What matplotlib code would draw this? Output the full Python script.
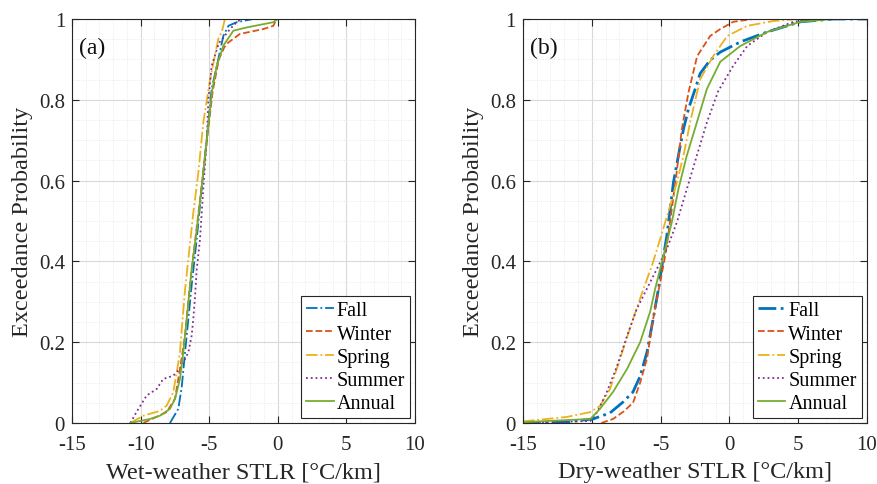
import matplotlib
matplotlib.use("Agg")
import matplotlib.pyplot as plt
from matplotlib.ticker import MultipleLocator, FuncFormatter

plt.rcParams['font.family'] = ['Liberation Serif', 'DejaVu Serif']
plt.rcParams['axes.unicode_minus'] = False
plt.rcParams['mathtext.fontset'] = 'stix'

# ---- data: (a) wet-weather STLR ----
wet_fall_x = [-7.86, -7.25, -7.0, -6.76, -6.52, -6.28, -5.91, -5.55, -5.18, -4.82, -4.34, -3.97, -3.6, -3.0, -1.79]
wet_fall_y = [0, 0.035, 0.09, 0.175, 0.257, 0.34, 0.455, 0.58, 0.703, 0.827, 0.90, 0.958, 0.983, 0.992, 1.0]
wet_winter_x = [-9.8, -8.1, -7.49, -7.13, -6.76, -6.52, -6.28, -5.85, -5.5, -5.1, -4.75, -4.3, -3.9, -3.6, -2.76, -1.06, -0.33, -0.08]
wet_winter_y = [0, 0.027, 0.06, 0.134, 0.216, 0.30, 0.38, 0.5, 0.6, 0.72, 0.82, 0.90, 0.93, 0.942, 0.963, 0.975, 0.983, 1.0]
wet_spring_x = [-10.75, -9.8, -8.59, -8.1, -7.62, -7.37, -7.13, -7.0, -6.76, -6.16, -5.79, -5.43, -4.94, -4.34, -4.09, -3.85]
wet_spring_y = [0, 0.018, 0.03, 0.043, 0.076, 0.125, 0.175, 0.233, 0.33, 0.52, 0.62, 0.744, 0.85, 0.95, 0.967, 1.0]
wet_summer_x = [-10.75, -10.3, -9.56, -8.83, -8.35, -7.62, -7.13, -6.76, -6.52, -6.28, -6.16, -6.03, -5.91, -5.67, -5.43, -5.18, -5.06, -4.82, -4.3, -3.48, -3.0, -2.63]
wet_summer_y = [0, 0.027, 0.068, 0.084, 0.109, 0.117, 0.134, 0.158, 0.175, 0.216, 0.257, 0.315, 0.38, 0.455, 0.58, 0.70, 0.80, 0.884, 0.94, 0.975, 0.992, 1.0]
wet_annual_x = [-10.75, -9.31, -8.59, -7.86, -7.49, -7.13, -6.89, -6.64, -6.4, -6.28, -5.9, -5.5, -5.15, -4.8, -4.45, -3.97, -3.24, -2.27, -0.33, 0.0]
wet_annual_y = [0, 0.01, 0.018, 0.035, 0.06, 0.109, 0.175, 0.257, 0.34, 0.38, 0.48, 0.6, 0.71, 0.82, 0.884, 0.934, 0.971, 0.979, 0.992, 1.0]

# ---- data: (b) dry-weather STLR ----
dry_fall_x = [-15, -12, -9.9, -8.67, -7.72, -7.0, -6.48, -5.98, -5.54, -5.15, -4.9, -4.54, -4.3, -4.06, -3.7, -3.33, -2.97, -2.48, -2.12, -1.4, -0.66, 0.79, 2.76, 5.16, 7.56, 10]
dry_fall_y = [0, 0.002, 0.01, 0.025, 0.052, 0.077, 0.116, 0.176, 0.257, 0.332, 0.389, 0.464, 0.53, 0.596, 0.662, 0.728, 0.777, 0.827, 0.865, 0.898, 0.918, 0.943, 0.968, 0.993, 1.0, 1.0]
dry_winter_x = [-9.3, -8.45, -7.7, -7.0, -6.48, -5.98, -5.54, -5.03, -4.66, -4.3, -3.9, -3.45, -2.97, -2.34, -1.39, -0.66, 0.28, 1.74, 10]
dry_winter_y = [0, 0.01, 0.028, 0.05, 0.1, 0.16, 0.257, 0.348, 0.414, 0.5, 0.6, 0.728, 0.818, 0.908, 0.958, 0.975, 0.993, 1.0, 1.0]
dry_spring_x = [-15, -11.8, -10.1, -9.4, -8.67, -7.95, -7.0, -6.24, -5.63, -5.03, -4.3, -3.81, -3.33, -2.85, -2.12, -1.17, -0.15, 1.3, 3.2, 5.16, 10]
dry_spring_y = [0.004, 0.015, 0.027, 0.042, 0.084, 0.158, 0.257, 0.332, 0.389, 0.455, 0.538, 0.596, 0.662, 0.744, 0.851, 0.908, 0.958, 0.983, 0.995, 1.0, 1.0]
dry_summer_x = [-15, -10.1, -9.6, -8.9, -8.16, -7.43, -6.73, -5.76, -5.27, -4.54, -3.81, -3.09, -2.36, -1.63, -0.8, 0.28, 1.3, 2.76, 4.65, 6.4, 10]
dry_summer_y = [0, 0.005, 0.027, 0.077, 0.141, 0.216, 0.282, 0.348, 0.381, 0.431, 0.497, 0.579, 0.662, 0.744, 0.822, 0.884, 0.933, 0.968, 0.993, 1.0, 1.0]
dry_annual_x = [-15, -10.1, -9.4, -8.45, -7.43, -6.48, -5.76, -5.39, -5.15, -4.66, -4.18, -3.7, -3.09, -2.36, -1.63, -0.66, 0.79, 2.76, 5.16, 7.56, 10]
dry_annual_y = [0.002, 0.01, 0.035, 0.077, 0.134, 0.2, 0.275, 0.332, 0.365, 0.431, 0.497, 0.579, 0.662, 0.744, 0.827, 0.894, 0.933, 0.968, 0.993, 1.0, 1.0]

labels = ['Fall', 'Winter', 'Spring', 'Summer', 'Annual']
colors = ['#0072BD', '#D95319', '#EDB120', '#7E2F8E', '#77AC30']
styles = ['-.', '--', '-.', ':', '-']

wet = [(wet_fall_x, wet_fall_y), (wet_winter_x, wet_winter_y), (wet_spring_x, wet_spring_y),
       (wet_summer_x, wet_summer_y), (wet_annual_x, wet_annual_y)]
dry = [(dry_fall_x, dry_fall_y), (dry_winter_x, dry_winter_y), (dry_spring_x, dry_spring_y),
       (dry_summer_x, dry_summer_y), (dry_annual_x, dry_annual_y)]

fig = plt.figure(figsize=(8.77, 4.85), dpi=100)
ax1 = fig.add_axes([0.0821, 0.1258, 0.3911, 0.833])
ax2 = fig.add_axes([0.5963, 0.1258, 0.3922, 0.833])


def yfmt(v, pos):
    return '%g' % round(v, 2)


for ax, series, xlabel, tag in [(ax1, wet, 'Wet-weather STLR [°C/km]', '(a)'),
                                (ax2, dry, 'Dry-weather STLR [°C/km]', '(b)')]:
    for i, (xs, ys) in enumerate(series):
        lw = 2.0 if (ax is ax2 and i == 0) else 1.3
        ax.plot(xs, ys, styles[i], color=colors[i], lw=lw, label=labels[i])
    ax.set_xlim(-15, 10)
    ax.set_ylim(0, 1)
    ax.xaxis.set_major_locator(MultipleLocator(5))
    ax.xaxis.set_minor_locator(MultipleLocator(1))
    ax.yaxis.set_major_locator(MultipleLocator(0.2))
    ax.yaxis.set_minor_locator(MultipleLocator(0.05))
    ax.yaxis.set_major_formatter(FuncFormatter(yfmt))
    ax.grid(which='major', color='#d9d9d9', lw=0.8, ls='-')
    ax.grid(which='minor', color='#e4e4e4', lw=0.6, ls=':')
    ax.set_axisbelow(True)
    ax.tick_params(which='major', direction='in', top=True, right=True, length=5,
                   width=0.8, labelsize=15, colors='#262626')
    ax.tick_params(axis='x', which='major', pad=9)
    ax.tick_params(axis='y', which='major', pad=5)
    ax.tick_params(which='minor', length=0)
    for s in ax.spines.values():
        s.set_color('#262626')
        s.set_linewidth(0.8)
    ax.set_xlabel(xlabel, fontsize=17.5, color='#262626', labelpad=5)
    ax.set_ylabel('Exceedance Probability', fontsize=17.5, color='#262626', labelpad=4)
    ax.text(0.02, 0.955, tag, transform=ax.transAxes, fontsize=17, va='top', ha='left', color='#111111')
    leg = ax.legend(loc='lower right', fontsize=14.5, handlelength=1.35, handletextpad=0.15,
                    labelspacing=0.2, borderpad=0.25, borderaxespad=0.25, fancybox=False,
                    framealpha=1, edgecolor='#262626')
    leg.get_frame().set_linewidth(0.8)

fig.savefig('out.png', dpi=100)
